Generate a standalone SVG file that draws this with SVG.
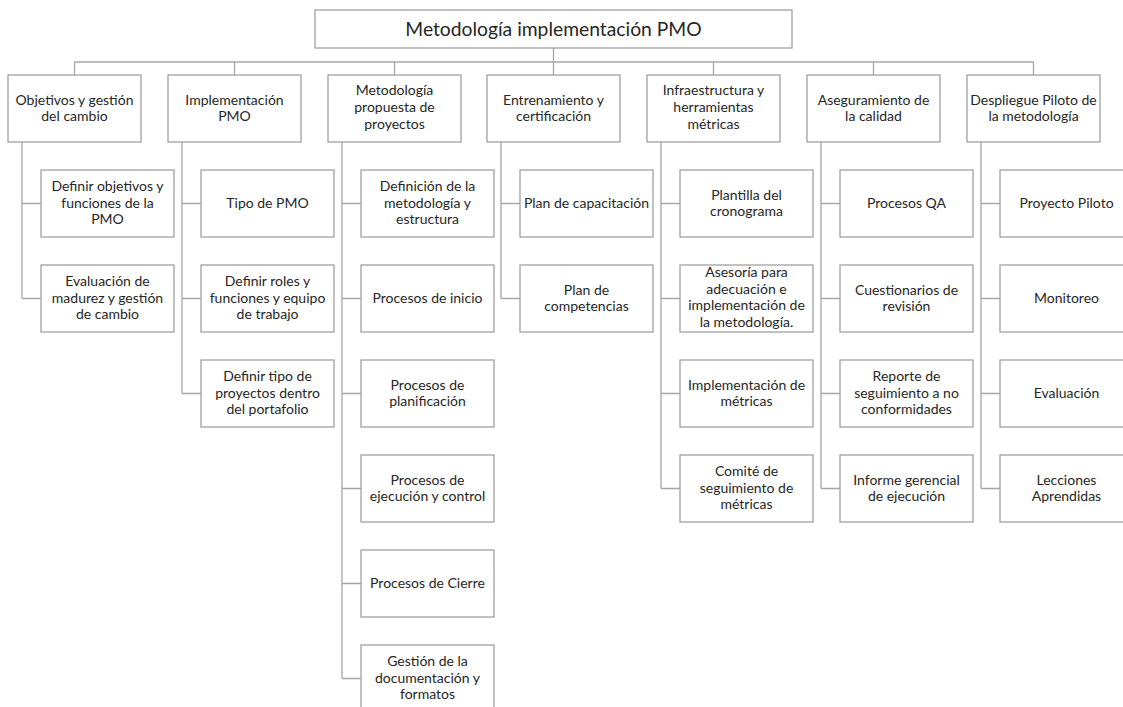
<svg xmlns="http://www.w3.org/2000/svg" width="1123" height="707" viewBox="0 0 1123 707">
<style>
.b{fill:#fff;stroke:#a0a0a0;stroke-width:1.3}
.c{fill:none;stroke:#a6a6a6;stroke-width:1.3}
text{font-family:Lato,"Open Sans","Liberation Sans",sans-serif;font-size:14px;fill:#262626;text-anchor:middle}
.r{font-size:19.3px}
</style>
<rect width="1123" height="707" fill="#fff"/>
<g id="connectors">
<path class="c" d="M553.5 48V62M74.5 62H1033.5M74.5 62V75M234.5 62V75M394.5 62V75M553.5 62V75M713.5 62V75M873.5 62V75M1033.5 62V75"/>
<path class="c" d="M22 142V298.5M22 203.5H41M22 298.5H41"/>
<path class="c" d="M182 142V393.5M182 203.5H201M182 298.5H201M182 393.5H201"/>
<path class="c" d="M342 142V678.5M342 203.5H361M342 298.5H361M342 393.5H361M342 488.5H361M342 583.5H361M342 678.5H361"/>
<path class="c" d="M501 142V298.5M501 203.5H520M501 298.5H520"/>
<path class="c" d="M661 142V488.5M661 203.5H680M661 298.5H680M661 393.5H680M661 488.5H680"/>
<path class="c" d="M821 142V488.5M821 203.5H840M821 298.5H840M821 393.5H840M821 488.5H840"/>
<path class="c" d="M981 142V488.5M981 203.5H1000M981 298.5H1000M981 393.5H1000M981 488.5H1000"/>
</g>
<g id="root"><rect class="b" x="315" y="10" width="477" height="38"/><text class="r" x="553.5" y="35.5">Metodología implementación PMO</text></g>

<g id="n1"><rect class="b" x="8" y="75" width="133" height="67"/><text x="74.5" y="104.5">Objetivos y gestión<tspan x="74.5" dy="16.5">del cambio</tspan></text></g>
<g id="n2"><rect class="b" x="168" y="75" width="133" height="67"/><text x="234.5" y="104.5">Implementación<tspan x="234.5" dy="16.5">PMO</tspan></text></g>
<g id="n3"><rect class="b" x="328" y="75" width="133" height="67"/><text x="394.5" y="95">Metodología<tspan x="394.5" dy="16.8">propuesta de</tspan><tspan x="394.5" dy="16.8">proyectos</tspan></text></g>
<g id="n4"><rect class="b" x="487" y="75" width="133" height="67"/><text x="553.5" y="104.5">Entrenamiento y<tspan x="553.5" dy="16.5">certificación</tspan></text></g>
<g id="n5"><rect class="b" x="647" y="75" width="133" height="67"/><text x="713.5" y="95">Infraestructura y<tspan x="713.5" dy="16.8">herramientas</tspan><tspan x="713.5" dy="16.8">métricas</tspan></text></g>
<g id="n6"><rect class="b" x="807" y="75" width="133" height="67"/><text x="873.5" y="104.5">Aseguramiento de<tspan x="873.5" dy="16.5">la calidad</tspan></text></g>
<g id="n7"><rect class="b" x="967" y="75" width="133" height="67"/><text x="1033.5" y="104.5">Despliegue Piloto de<tspan x="1033.5" dy="16.5">la metodología</tspan></text></g>

<g id="n1a"><rect class="b" x="41" y="170" width="133" height="67"/><text x="107.5" y="191">Definir objetivos y<tspan x="107.5" dy="16.5">funciones de la</tspan><tspan x="107.5" dy="16.5">PMO</tspan></text></g>
<g id="n1b"><rect class="b" x="41" y="265" width="133" height="67"/><text x="107.5" y="286">Evaluación de<tspan x="107.5" dy="16.5">madurez y gestión</tspan><tspan x="107.5" dy="16.5">de cambio</tspan></text></g>

<g id="n2a"><rect class="b" x="201" y="170" width="133" height="67"/><text x="267.5" y="208">Tipo de PMO</text></g>
<g id="n2b"><rect class="b" x="201" y="265" width="133" height="67"/><text x="267.5" y="286">Definir roles y<tspan x="267.5" dy="16.5">funciones y equipo</tspan><tspan x="267.5" dy="16.5">de trabajo</tspan></text></g>
<g id="n2c"><rect class="b" x="201" y="360" width="133" height="67"/><text x="267.5" y="381">Definir tipo de<tspan x="267.5" dy="16.5">proyectos dentro</tspan><tspan x="267.5" dy="16.5">del portafolio</tspan></text></g>

<g id="n3a"><rect class="b" x="361" y="170" width="133" height="67"/><text x="427.5" y="191">Definición de la<tspan x="427.5" dy="16.5">metodología y</tspan><tspan x="427.5" dy="16.5">estructura</tspan></text></g>
<g id="n3b"><rect class="b" x="361" y="265" width="133" height="67"/><text x="427.5" y="303">Procesos de inicio</text></g>
<g id="n3c"><rect class="b" x="361" y="360" width="133" height="67"/><text x="427.5" y="389.5">Procesos de<tspan x="427.5" dy="16.5">planificación</tspan></text></g>
<g id="n3d"><rect class="b" x="361" y="455" width="133" height="67"/><text x="427.5" y="484.5">Procesos de<tspan x="427.5" dy="16.5">ejecución y control</tspan></text></g>
<g id="n3e"><rect class="b" x="361" y="550" width="133" height="67"/><text x="427.5" y="588">Procesos de Cierre</text></g>
<g id="n3f"><rect class="b" x="361" y="645" width="133" height="67"/><text x="427.5" y="666">Gestión de la<tspan x="427.5" dy="16.5">documentación y</tspan><tspan x="427.5" dy="16.5">formatos</tspan></text></g>

<g id="n4a"><rect class="b" x="520" y="170" width="133" height="67"/><text x="586.5" y="208">Plan de capacitación</text></g>
<g id="n4b"><rect class="b" x="520" y="265" width="133" height="67"/><text x="586.5" y="294.5">Plan de<tspan x="586.5" dy="16.5">competencias</tspan></text></g>

<g id="n5a"><rect class="b" x="680" y="170" width="133" height="67"/><text x="746.5" y="199.5">Plantilla del<tspan x="746.5" dy="16.5">cronograma</tspan></text></g>
<g id="n5b"><rect class="b" x="680" y="265" width="133" height="67"/><text x="746.5" y="277">Asesoría para<tspan x="746.5" dy="16.7">adecuación e</tspan><tspan x="746.5" dy="16.7">implementación de</tspan><tspan x="746.5" dy="16.7">la metodología.</tspan></text></g>
<g id="n5c"><rect class="b" x="680" y="360" width="133" height="67"/><text x="746.5" y="389.5">Implementación de<tspan x="746.5" dy="16.5">métricas</tspan></text></g>
<g id="n5d"><rect class="b" x="680" y="455" width="133" height="67"/><text x="746.5" y="476">Comité de<tspan x="746.5" dy="16.5">seguimiento de</tspan><tspan x="746.5" dy="16.5">métricas</tspan></text></g>

<g id="n6a"><rect class="b" x="840" y="170" width="133" height="67"/><text x="906.5" y="208">Procesos QA</text></g>
<g id="n6b"><rect class="b" x="840" y="265" width="133" height="67"/><text x="906.5" y="294.5">Cuestionarios de<tspan x="906.5" dy="16.5">revisión</tspan></text></g>
<g id="n6c"><rect class="b" x="840" y="360" width="133" height="67"/><text x="906.5" y="381">Reporte de<tspan x="906.5" dy="16.5">seguimiento a no</tspan><tspan x="906.5" dy="16.5">conformidades</tspan></text></g>
<g id="n6d"><rect class="b" x="840" y="455" width="133" height="67"/><text x="906.5" y="484.5">Informe gerencial<tspan x="906.5" dy="16.5">de ejecución</tspan></text></g>

<g id="n7a"><rect class="b" x="1000" y="170" width="133" height="67"/><text x="1066.5" y="208">Proyecto Piloto</text></g>
<g id="n7b"><rect class="b" x="1000" y="265" width="133" height="67"/><text x="1066.5" y="303">Monitoreo</text></g>
<g id="n7c"><rect class="b" x="1000" y="360" width="133" height="67"/><text x="1066.5" y="398">Evaluación</text></g>
<g id="n7d"><rect class="b" x="1000" y="455" width="133" height="67"/><text x="1066.5" y="484.5">Lecciones<tspan x="1066.5" dy="16.5">Aprendidas</tspan></text></g>
</svg>
